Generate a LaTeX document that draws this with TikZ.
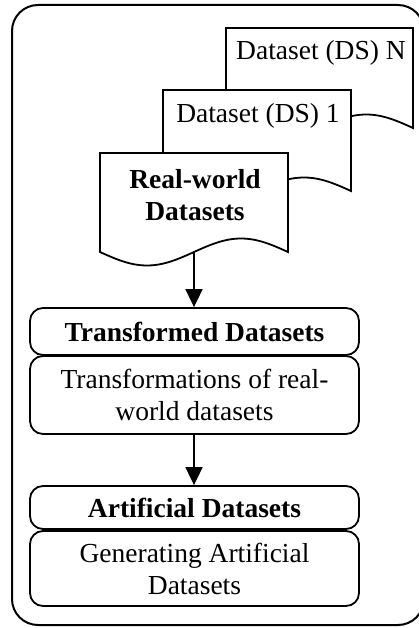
\documentclass[tikz,border=0pt]{standalone}
\usepackage{fontspec}
\setmainfont{Liberation Serif}
\usetikzlibrary{arrows.meta}
\tikzset{
  ln/.style={line width=1.8pt, draw=black},
  docbox/.style={ln, fill=white, line join=miter},
  hdr/.style={ln, rectangle, rounded corners=13pt, minimum width=329pt, inner sep=0pt, align=center, font=\fontsize{27.5}{32}\selectfont\bfseries},
  bdy/.style={ln, rectangle, rounded corners=13pt, minimum width=329pt, inner sep=0pt, align=center, font=\fontsize{27.5}{32}\selectfont},
  lbl/.style={inner sep=0pt, align=center, font=\fontsize{27.5}{32}\selectfont},
  flow/.style={ln, -{Triangle[width=17pt,length=18pt]}}
}
\newcommand{\docshape}[4]{%
  \path[docbox] (#1,#2+#4) sin (#1+#3/4,#2+#4+13.5) cos (#1+#3/2,#2+#4)
    sin (#1+3*#3/4,#2+#4-13.5) cos (#1+#3,#2+#4) -- (#1+#3,#2) -- (#1,#2) -- cycle;}
\begin{document}
\begin{tikzpicture}[x=1pt,y=-1pt]
\useasboundingbox (0,0) rectangle (418,628);
% outer frame
\draw[ln, line width=2pt, rounded corners=26pt] (12,5) rectangle (424,625);
% stacked documents
\docshape{226}{28}{187}{100}
\node[lbl, anchor=base] (dsn) at (321,60) {Dataset (DS) N};
\docshape{163}{90}{188}{101}
\node[lbl, anchor=base] (ds1) at (258,123) {Dataset (DS) 1};
\docshape{100}{153}{188}{99}
\node[lbl, font=\fontsize{27.5}{32}\selectfont\bfseries] (rw) at (195,195) {Real-world\\Datasets};
\coordinate (rwb) at (194,252);
% transformed
\node[hdr, minimum height=47pt] (th) at (194.5,331.5) {Transformed Datasets};
\node[bdy, minimum height=78pt] (tb) at (194.5,395) {Transformations of real-\\world datasets};
% artificial
\node[hdr, minimum height=43pt] (ah) at (194.5,507.5) {Artificial Datasets};
\node[bdy, minimum height=75pt] (ab) at (194.5,568.5) {Generating Artificial\\Datasets};
% arrows
\draw[flow] (rwb) -- (rwb |- th.north);
\draw[flow] (rwb |- tb.south) -- (rwb |- ah.north);
\end{tikzpicture}
\end{document}
